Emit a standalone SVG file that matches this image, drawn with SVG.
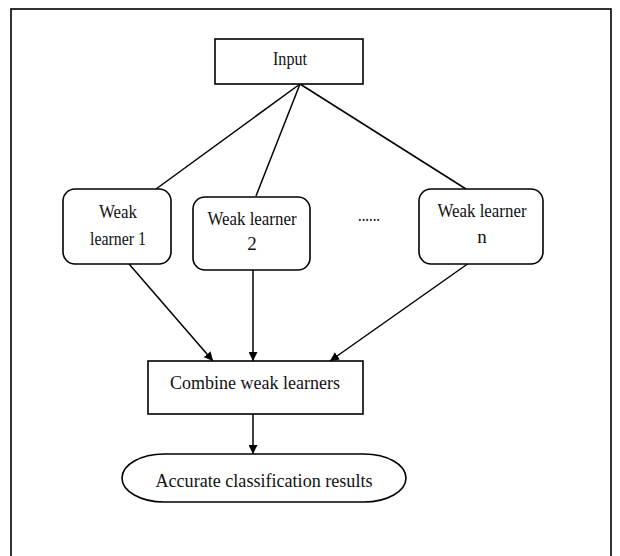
<svg xmlns="http://www.w3.org/2000/svg" width="620" height="556" viewBox="0 0 620 556">
<style>
.box{fill:#fff;stroke:#000;stroke-width:1.6}
.ln{fill:none;stroke:#000;stroke-width:1.5}
.t{font-family:"Liberation Serif","Times New Roman",serif;font-size:19px;fill:#111;text-anchor:middle}
</style>
<defs>
<marker id="ah" viewBox="0 0 10 10" refX="10" refY="5" markerWidth="9" markerHeight="9" markerUnits="userSpaceOnUse" orient="auto">
<path d="M0,0 L10,5 L0,10 Z" fill="#000"/>
</marker>
</defs>
<rect x="11" y="9" width="600" height="560" fill="#fff" stroke="#000" stroke-width="1.6"/>
<g id="connectors">
<line class="ln" x1="300" y1="84" x2="156" y2="189"/>
<line class="ln" x1="300" y1="84" x2="256" y2="196"/>
<line class="ln" x1="300" y1="84" x2="466" y2="189"/>
<line class="ln" x1="123" y1="257" x2="213" y2="361" marker-end="url(#ah)"/>
<line class="ln" x1="253" y1="265" x2="253" y2="361" marker-end="url(#ah)"/>
<line class="ln" x1="476" y1="258" x2="330" y2="361" marker-end="url(#ah)"/>
<line class="ln" x1="253" y1="413" x2="253" y2="454" marker-end="url(#ah)"/>
</g>
<g id="input">
<rect class="box" x="215" y="39" width="148" height="45"/>
<text class="t" x="290" y="65" textLength="34" lengthAdjust="spacingAndGlyphs">Input</text>
</g>
<g id="weak1">
<rect class="box" x="63" y="189" width="108" height="75" rx="12"/>
<text class="t" x="118" y="218" textLength="38" lengthAdjust="spacingAndGlyphs">Weak</text>
<text class="t" x="118" y="245" textLength="56" lengthAdjust="spacingAndGlyphs">learner 1</text>
</g>
<g id="weak2">
<rect class="box" x="193" y="197" width="117" height="73" rx="12"/>
<text class="t" x="252" y="225" textLength="89" lengthAdjust="spacingAndGlyphs">Weak learner</text>
<text class="t" x="252" y="250">2</text>
</g>
<g id="dots">
<text class="t" x="369" y="221" textLength="22" lengthAdjust="spacingAndGlyphs">......</text>
</g>
<g id="weakn">
<rect class="box" x="419" y="189" width="124" height="75" rx="12"/>
<text class="t" x="482" y="217" textLength="89" lengthAdjust="spacingAndGlyphs">Weak learner</text>
<text class="t" x="482" y="243">n</text>
</g>
<g id="combine">
<rect class="box" x="148" y="361" width="215" height="53"/>
<text class="t" x="255" y="389" textLength="170" lengthAdjust="spacingAndGlyphs">Combine weak learners</text>
</g>
<g id="result">
<rect class="box" x="122" y="454" width="284" height="48" rx="42" ry="24"/>
<text class="t" x="264" y="487" textLength="217" lengthAdjust="spacingAndGlyphs">Accurate classification results</text>
</g>
</svg>
